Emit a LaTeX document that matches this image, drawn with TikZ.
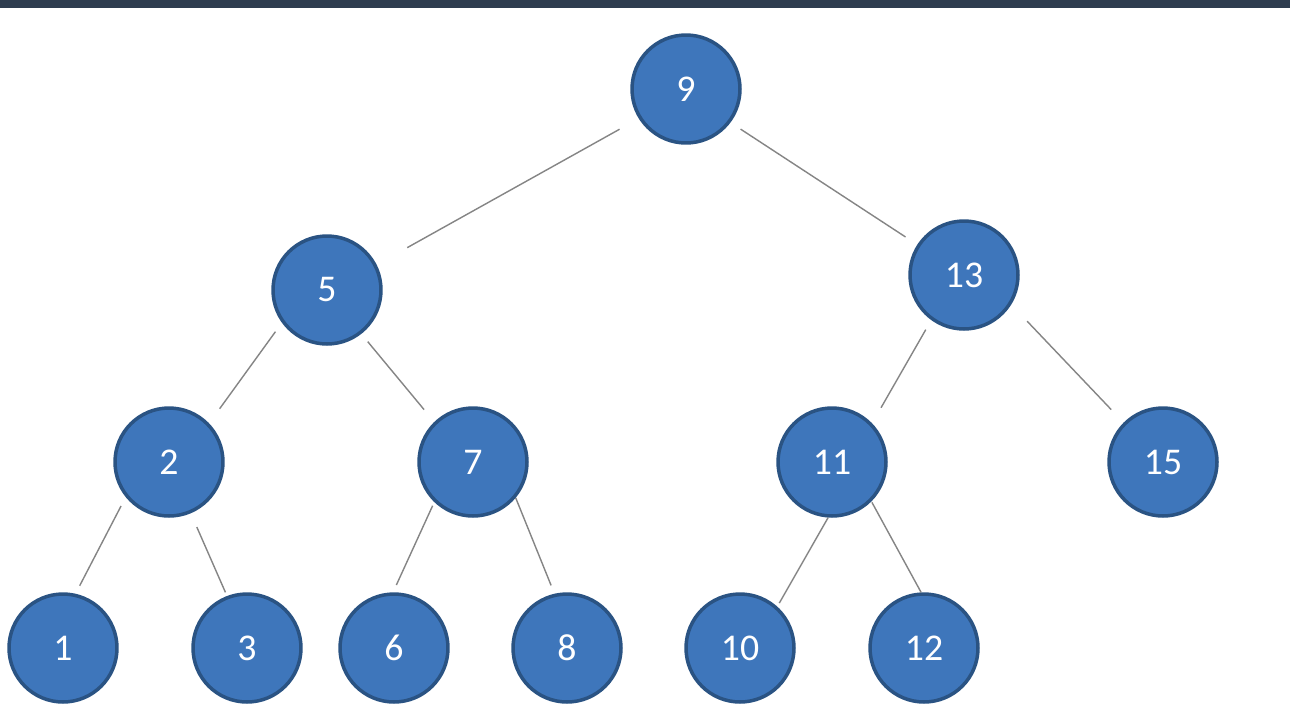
\documentclass[tikz,border=0pt]{standalone}
\usepackage{fontspec}
\setmainfont{Carlito}
\usepackage{tikz}

\definecolor{nodeblue}{HTML}{3E76BB}
\definecolor{nodeborder}{HTML}{2A5383}
\definecolor{edgegray}{HTML}{858585}
\definecolor{topbar}{HTML}{2E3D4F}

\tikzset{
	treenode/.style={circle,fill=nodeblue,draw=nodeborder,line width=0.07cm,minimum size=2.16cm,inner sep=0pt,text=white,font=\fontsize{21.5}{24}\selectfont},
	treeedge/.style={draw=edgegray,line width=0.8pt}
}

\begin{document}
\begin{tikzpicture}[x=0.02cm,y=-0.02cm]
		\useasboundingbox (0, 0) rectangle (1290, 714);
		\fill [white] (0, 0) rectangle (1290, 714);
		\fill [topbar] (0, 0) rectangle (1290, 8);
		\node [treenode] (n9) at (686, 89) {9};
		\node [treenode] (n5) at (327, 290) {5};
		\node [treenode] (n13) at (964, 275) {13};
		\node [treenode] (n2) at (169, 462) {2};
		\node [treenode] (n7) at (473, 462) {7};
		\node [treenode] (n11) at (832, 462) {11};
		\node [treenode] (n15) at (1163, 462) {15};
		\node [treenode] (n1) at (63, 648) {1};
		\node [treenode] (n3) at (247, 648) {3};
		\node [treenode] (n6) at (394, 648) {6};
		\node [treenode] (n8) at (567, 648) {8};
		\node [treenode] (n10) at (740, 648) {10};
		\node [treenode] (n12) at (924, 648) {12};
		\draw [treeedge,shorten <=0.44cm,shorten >=0.7cm] (n9.212) -- (n5.27);
		\draw [treeedge,shorten <=0.24cm,shorten >=0.28cm] (n9.-37) -- (n13.147);
		\draw [treeedge,shorten <=0.22cm,shorten >=0.36cm] (n5.216) -- (n2.44);
		\draw [treeedge,shorten <=0.2cm,shorten >=0.32cm] (n5.-52) -- (n7.134);
		\draw [treeedge,shorten <=0.22cm,shorten >=0.36cm] (n13.234) -- (n11.44);
		\draw [treeedge,shorten <=0.46cm,shorten >=0.36cm] (n13.-32) -- (n15.135);
		\draw [treeedge,shorten <=0.2cm,shorten >=0.18cm] (n2.219) -- (n1.77);
		\draw [treeedge,shorten <=0.3cm,shorten >=0.08cm] (n2.-67) -- (n3.111);
		\draw [treeedge,shorten <=0.08cm,shorten >=0.16cm] (n7.226) -- (n6.91);
		\draw [treeedge,shorten >=0.18cm] (n7.-40) -- (n8.103);
		\draw [treeedge,shorten >=0.08cm] (n11.266) -- (n10.48);
		\draw [treeedge,shorten <=0.02cm] (n11.-45) -- (n12.93);
	\end{tikzpicture}
\end{document}
